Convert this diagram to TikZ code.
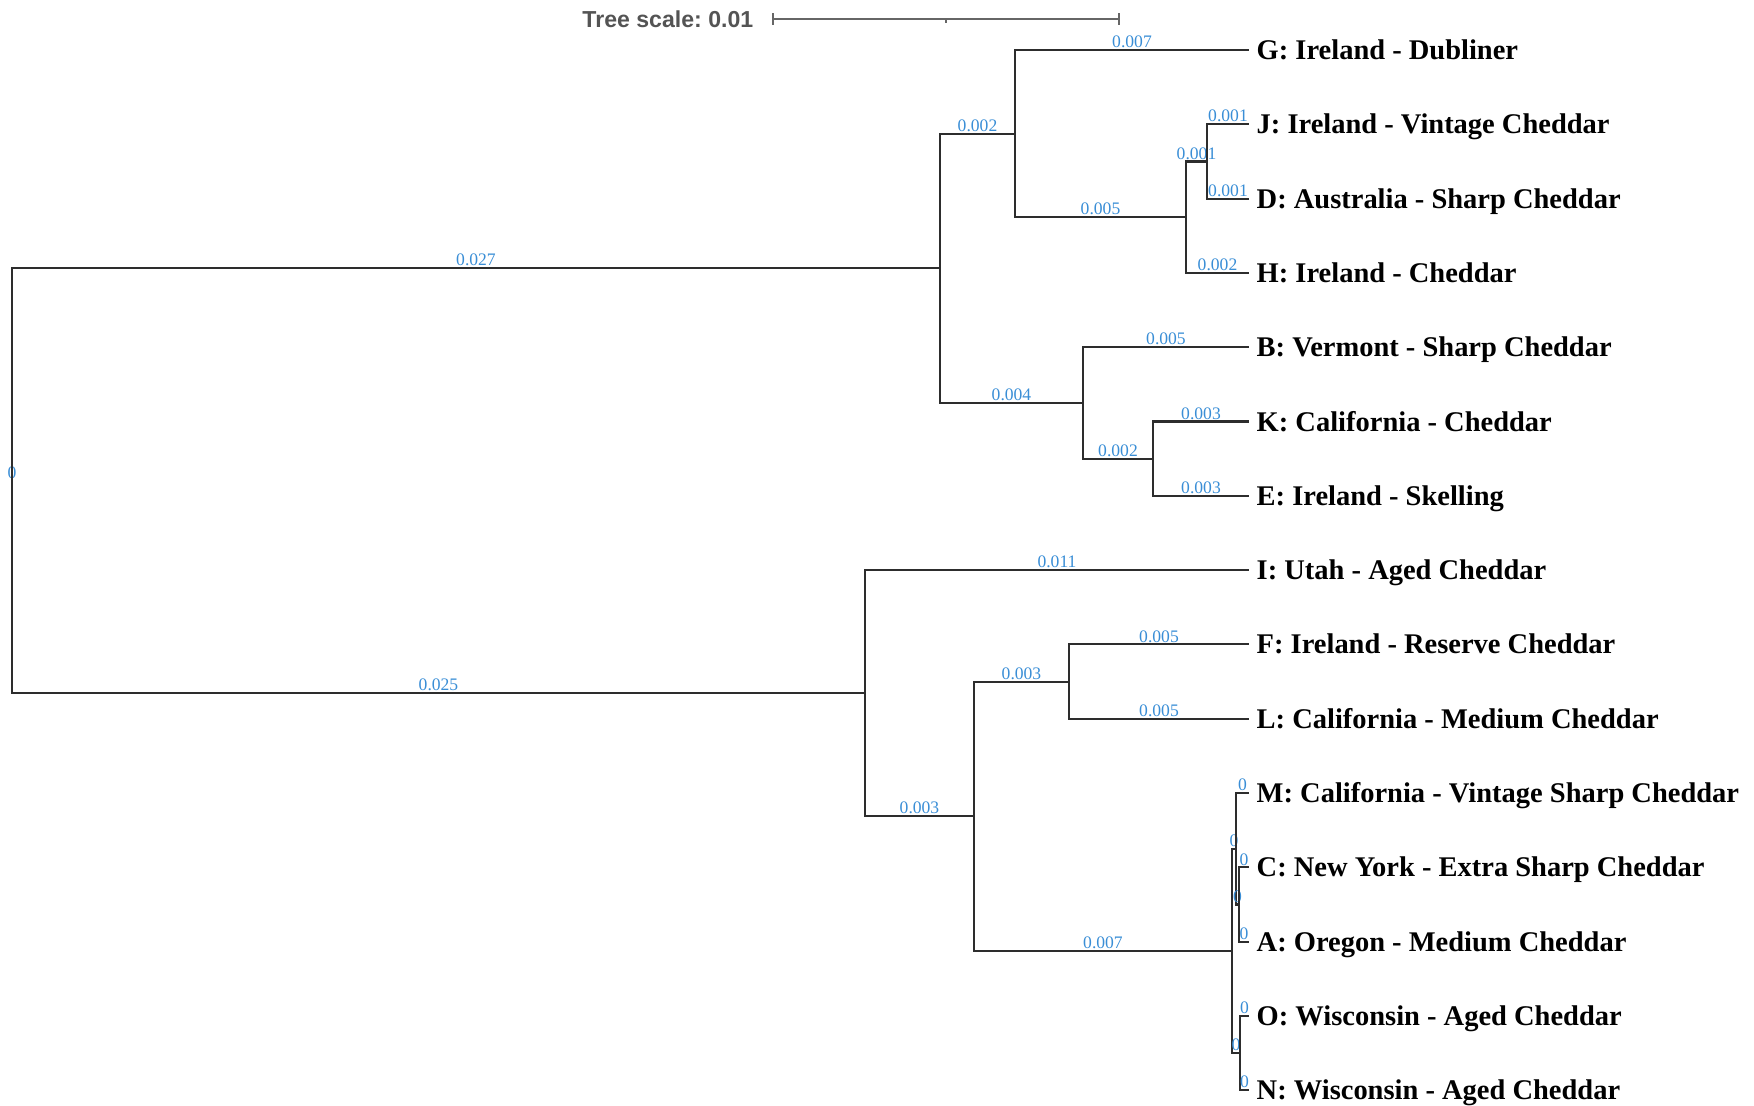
\documentclass[tikz,border=0pt]{standalone}
\usepackage{fontspec}
\setmainfont{Liberation Serif}
\newfontfamily\treescalefont{Liberation Sans}
\usetikzlibrary{positioning}
\definecolor{lenblue}{RGB}{58,142,214}
\definecolor{treegray}{RGB}{45,45,45}

\begin{document}
\begin{tikzpicture}[x=0.01cm, y=-0.01cm,
    branch/.style={draw=treegray, line width=0.6pt},
    blen/.style={above, inner sep=0.3pt, text=lenblue, font=\fontsize{5}{5}\selectfont},
    leaf/.style={anchor=base west, inner sep=0pt, font=\fontsize{8.1}{9}\selectfont\bfseries},
    scalebar/.style={draw=black!60, line width=0.5pt}]
    \useasboundingbox (0,0) rectangle (1754,1105);

    % tree scale
    \node [anchor=east, inner sep=0pt, text=black!67, font=\treescalefont\bfseries\fontsize{6.57}{8}\selectfont\frenchspacing] (scaletext) at (754,19) {Tree scale: 0.01};
    \draw [scalebar] (773,19) -- (1119,19);
    \draw [scalebar] (773,13) -- (773,25);
    \draw [scalebar] (1119,13) -- (1119,25);
    \draw [scalebar] (946,19) -- (946,23);

    % internal nodes
    \coordinate (root) at (12,480.7);
    \coordinate (A1) at (940,268.3);
    \coordinate (A2) at (1015,133.6);
    \coordinate (A3) at (1186,217.2);
    \coordinate (A4) at (1207,161.5);
    \coordinate (A5) at (1083,402.9);
    \coordinate (A6) at (1153,458.7);
    \coordinate (B1) at (865,693.2);
    \coordinate (B2) at (974,816.2);
    \coordinate (B3) at (1069,681.6);
    \coordinate (B4) at (1232,950.9);
    \coordinate (B5) at (1236,848.7);
    \coordinate (B6) at (1239,904.5);
    \coordinate (B7) at (1240,1053.1);

    % leaf tips
    \coordinate (tipG) at (1249,50.0);
    \coordinate (tipJ) at (1249,124.3);
    \coordinate (tipD) at (1249,198.6);
    \coordinate (tipH) at (1249,272.9);
    \coordinate (tipB) at (1249,347.2);
    \coordinate (tipK) at (1249,421.5);
    \coordinate (tipE) at (1249,495.8);
    \coordinate (tipI) at (1249,570.1);
    \coordinate (tipF) at (1249,644.4);
    \coordinate (tipL) at (1249,718.7);
    \coordinate (tipM) at (1249,793.0);
    \coordinate (tipC) at (1249,867.3);
    \coordinate (tipA) at (1249,941.6);
    \coordinate (tipO) at (1249,1015.9);
    \coordinate (tipN) at (1249,1090.2);

    % leaf labels
    \node [leaf] (G) at (1256,59.5) {G: Ireland - Dubliner};
    \node [leaf] (J) at (1256,133.8) {J: Ireland - Vintage Cheddar};
    \node [leaf] (D) at (1256,208.1) {D: Australia - Sharp Cheddar};
    \node [leaf] (H) at (1256,282.4) {H: Ireland - Cheddar};
    \node [leaf] (B) at (1256,356.7) {B: Vermont - Sharp Cheddar};
    \node [leaf] (K) at (1256,431.0) {K: California - Cheddar};
    \node [leaf] (E) at (1256,505.3) {E: Ireland - Skelling};
    \node [leaf] (I) at (1256,579.6) {I: Utah - Aged Cheddar};
    \node [leaf] (F) at (1256,653.9) {F: Ireland - Reserve Cheddar};
    \node [leaf] (L) at (1256,728.2) {L: California - Medium Cheddar};
    \node [leaf] (M) at (1256,802.5) {M: California - Vintage Sharp Cheddar};
    \node [leaf] (C) at (1256,876.8) {C: New York - Extra Sharp Cheddar};
    \node [leaf] (A) at (1256,951.1) {A: Oregon - Medium Cheddar};
    \node [leaf] (O) at (1256,1025.4) {O: Wisconsin - Aged Cheddar};
    \node [leaf] (N) at (1256,1099.7) {N: Wisconsin - Aged Cheddar};

    % branches
    \node [blen] (rootlen) at (root) {0};
    \draw [branch] (root) |- (A1) node [blen, pos=0.75] {0.027};
    \draw [branch] (root) |- (B1) node [blen, pos=0.75] {0.025};
    \draw [branch] (A1) |- (A2) node [blen, pos=0.75] {0.002};
    \draw [branch] (A1) |- (A5) node [blen, pos=0.75] {0.004};
    \draw [branch] (A2) |- (tipG) node [blen, pos=0.75] {0.007};
    \draw [branch] (A2) |- (A3) node [blen, pos=0.75] {0.005};
    \draw [branch] (A3) |- (A4) node [blen, pos=0.75] {0.001};
    \draw [branch] (A3) |- (tipH) node [blen, pos=0.75] {0.002};
    \draw [branch] (A4) |- (tipJ) node [blen, pos=0.75] {0.001};
    \draw [branch] (A4) |- (tipD) node [blen, pos=0.75] {0.001};
    \draw [branch] (A5) |- (tipB) node [blen, pos=0.75] {0.005};
    \draw [branch] (A5) |- (A6) node [blen, pos=0.75] {0.002};
    \draw [branch] (A6) |- (tipK) node [blen, pos=0.75] {0.003};
    \draw [branch] (A6) |- (tipE) node [blen, pos=0.75] {0.003};
    \draw [branch] (B1) |- (tipI) node [blen, pos=0.75] {0.011};
    \draw [branch] (B1) |- (B2) node [blen, pos=0.75] {0.003};
    \draw [branch] (B2) |- (B3) node [blen, pos=0.75] {0.003};
    \draw [branch] (B2) |- (B4) node [blen, pos=0.75] {0.007};
    \draw [branch] (B3) |- (tipF) node [blen, pos=0.75] {0.005};
    \draw [branch] (B3) |- (tipL) node [blen, pos=0.75] {0.005};
    \draw [branch] (B4) |- (B5) node [blen, pos=0.75] {0};
    \draw [branch] (B4) |- (B7) node [blen, pos=0.75] {0};
    \draw [branch] (B5) |- (tipM) node [blen, pos=0.75] {0};
    \draw [branch] (B5) |- (B6) node [blen, pos=0.75] {0};
    \draw [branch] (B6) |- (tipC) node [blen, pos=0.75] {0};
    \draw [branch] (B6) |- (tipA) node [blen, pos=0.75] {0};
    \draw [branch] (B7) |- (tipO) node [blen, pos=0.75] {0};
    \draw [branch] (B7) |- (tipN) node [blen, pos=0.75] {0};
\end{tikzpicture}
\end{document}
